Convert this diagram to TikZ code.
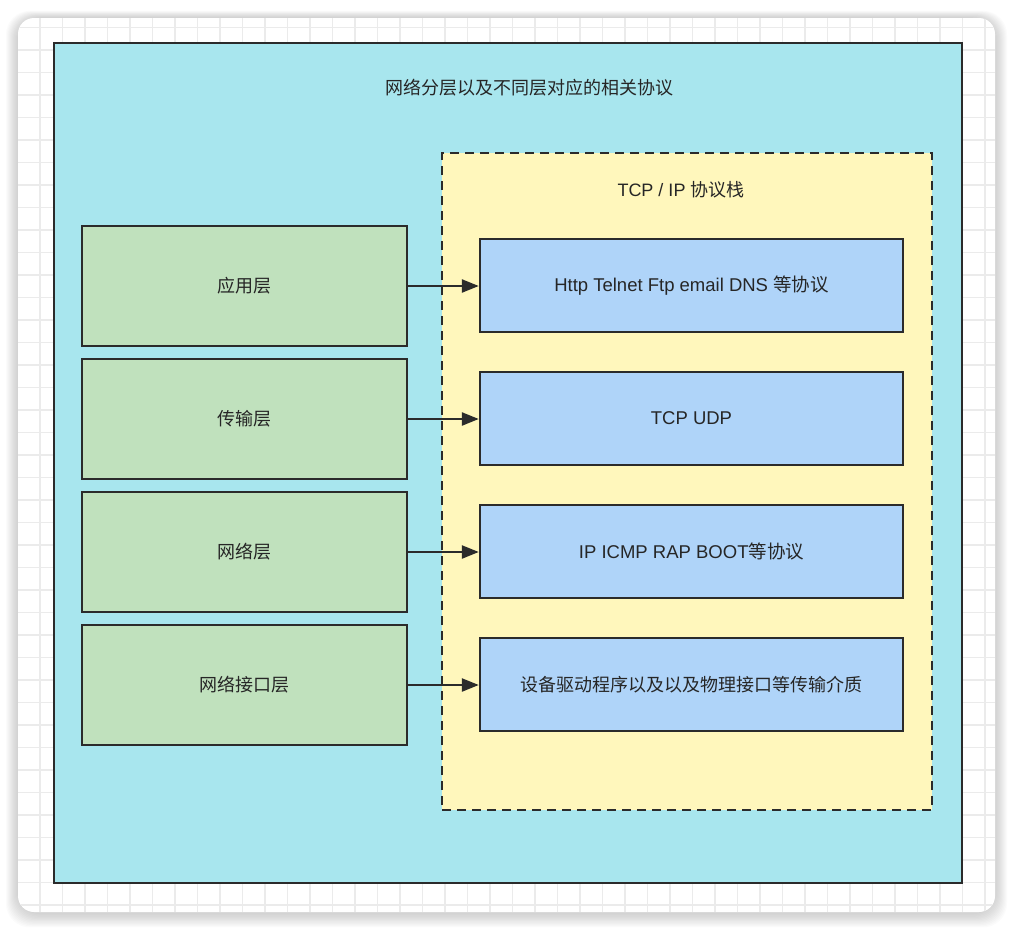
\documentclass[tikz,border=0pt]{standalone}
\usepackage{fontspec}
\setmainfont{Liberation Sans}
\newfontfamily\cjk{Noto Sans CJK SC}
\usetikzlibrary{arrows.meta}
\definecolor{edge}{HTML}{2B2B2B}
\definecolor{cyanfill}{HTML}{A8E6EE}
\definecolor{yellowfill}{HTML}{FFF7BC}
\definecolor{greenfill}{HTML}{C0E1BD}
\definecolor{bluefill}{HTML}{AFD4F9}
\definecolor{gridc}{HTML}{EBEBEB}
\tikzset{
  layer/.style={draw=edge, line width=2.4pt, fill=greenfill, minimum width=325pt, minimum height=120pt, font=\fontsize{18}{20}\selectfont, text=black!85},
  proto/.style={draw=edge, line width=2.4pt, fill=bluefill, minimum width=423pt, minimum height=93pt, font=\fontsize{18.5}{20}\selectfont, text=black!85},
  link/.style={draw=edge, line width=2.4pt, -{Triangle[length=17pt,width=13pt]}},
  lbl/.style={font=\fontsize{18}{20}\selectfont, text=black!85}
}
\begin{document}
\begin{tikzpicture}[x=1pt,y=-1pt]
\useasboundingbox (0,0) rectangle (1012,930);
% shadow
\foreach \i in {1,...,12}{
  \fill[black, opacity=0.016, rounded corners=24pt] (18-\i*1.0,18-\i*0.6) rectangle (995+\i*1.0,913+\i*1.2);
}
% card
\fill[white, rounded corners=16pt] (18,18) rectangle (995,912);
\begin{scope}
\clip[rounded corners=16pt] (18,18) rectangle (995,912);
\foreach \x in {0,...,44}{ \draw[gridc, line width=1.2pt] (17.5+\x*22.5,18) -- (17.5+\x*22.5,912); }
\foreach \y in {0,...,40}{ \draw[gridc, line width=1.2pt] (18,5+\y*22.5) -- (995,5+\y*22.5); }
\end{scope}
% outer
\node[draw=edge, line width=2.4pt, fill=cyanfill, minimum width=908pt, minimum height=840pt, anchor=north west, inner sep=0pt] (outer) at (53,42) {};
\node[lbl] (title) at (529,88) {\cjk 网络分层以及不同层对应的相关协议};
% dashed stack
\node[draw=edge, line width=2.4pt, dash pattern=on 9pt off 6pt, fill=yellowfill, minimum width=490pt, minimum height=657pt, anchor=north west, inner sep=0pt] (stack) at (441,152) {};
\node[lbl] (stacktitle) at (681,190) {TCP / IP {\cjk 协议栈}};
% layers
\node[layer] (l1) at (244.5,286) {\cjk 应用层};
\node[layer] (l2) at (244.5,419) {\cjk 传输层};
\node[layer] (l3) at (244.5,552) {\cjk 网络层};
\node[layer] (l4) at (244.5,685) {\cjk 网络接口层};
% protocols
\node[proto] (p1) at (691.5,285.5) {Http Telnet Ftp email DNS {\cjk 等协议}};
\node[proto] (p2) at (691.5,418.5) {TCP UDP};
\node[proto] (p3) at (691.5,551.5) {IP ICMP RAP BOOT{\cjk 等协议}};
\node[proto] (p4) at (691.5,684.5) {\cjk\fontsize{18}{20}\selectfont 设备驱动程序以及以及物理接口等传输介质};
% links
\draw[link] (l1.east) -- (l1.east -| p1.west);
\draw[link] (l2.east) -- (l2.east -| p2.west);
\draw[link] (l3.east) -- (l3.east -| p3.west);
\draw[link] (l4.east) -- (l4.east -| p4.west);
\end{tikzpicture}
\end{document}
